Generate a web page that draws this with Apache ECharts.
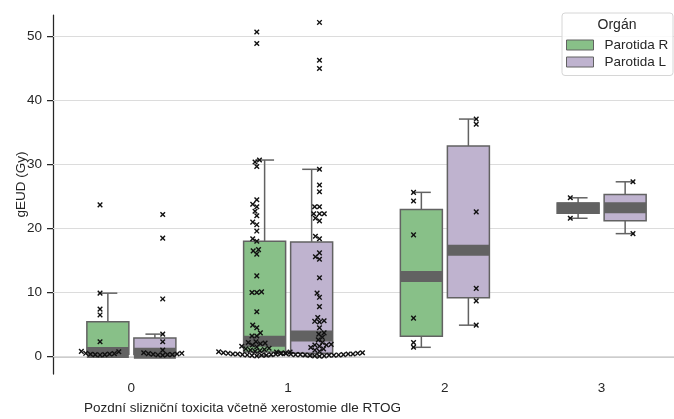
<!DOCTYPE html>
<html><head><meta charset="utf-8">
<script src="https://cdn.jsdelivr.net/npm/echarts@6/dist/echarts.min.js"></script>
<style>html,body{margin:0;padding:0;background:#fff}#c{width:674px;height:419px}</style>
</head><body><div id="c"></div>
<script>
// ---------- data ----------
const categories = ['0', '1', '2', '3'];
const hueNames = ['Parotida R', 'Parotida L'];
const hueColors = ['#88c088', '#bfb3cf'];
const yTicks = [0, 10, 20, 30, 40, 50];
// box statistics per category: [low whisker, Q1, median, Q3, high whisker]
const boxR = [[0.25, 0.36, 0.62, 5.45, 9.9], [0.1, 0.7, 2.4, 18.0, 30.7], [1.44, 3.15, 12.5, 22.98, 25.65], [21.6, 22.4, 23.2, 24.0, 24.8]];
const boxL = [[0.2, 0.3, 0.5, 2.9, 3.5], [0.05, 0.5, 3.2, 17.9, 29.25], [4.9, 9.19, 16.6, 32.9, 37.1], [19.2, 21.2, 23.25, 25.3, 27.3]];
// individual observations per category
const ptsR0 = [23.7, 9.9, 7.4, 6.5, 2.3, 0.8, 0.75, 0.5, 0.45, 0.4, 0.35, 0.3, 0.3, 0.25];
const ptsR1 = [50.7, 48.9, 30.7, 30.4, 29.7, 24.5, 23.8, 23.4, 22.7, 22.0, 21.0, 20.6, 19.6, 18.4, 18.0, 16.7, 16.5, 16.0, 12.6, 10.1, 10.0, 10.0, 7.0, 4.9, 4.5, 3.7, 3.2, 3.2, 2.3, 2.2, 2.1, 2.0, 1.8, 1.6, 1.5, 1.3, 1.2, 1.1, 1.0, 0.9, 0.8, 0.75, 0.7, 0.6, 0.55, 0.5, 0.45, 0.4, 0.4, 0.35, 0.3, 0.3, 0.25, 0.2, 0.2, 0.15, 0.1];
const ptsR2 = [25.65, 24.3, 19.0, 6.0, 2.2, 1.44];
const ptsR3 = [24.8, 21.6];
const ptsL0 = [22.2, 18.5, 9.0, 3.5, 2.3, 1.0, 0.6, 0.5, 0.45, 0.4, 0.35, 0.3, 0.3, 0.25, 0.2];
const ptsL1 = [52.2, 46.3, 45.0, 29.25, 26.8, 25.75, 23.4, 23.4, 22.3, 22.3, 22.3, 21.6, 21.2, 18.8, 18.4, 16.2, 15.6, 15.2, 12.3, 9.9, 9.25, 7.8, 6.1, 5.6, 5.5, 5.4, 4.5, 3.7, 3.5, 3.0, 2.6, 2.2, 1.9, 1.8, 1.8, 1.6, 1.4, 1.2, 1.0, 0.8, 0.7, 0.6, 0.55, 0.5, 0.45, 0.4, 0.4, 0.35, 0.3, 0.3, 0.3, 0.25, 0.25, 0.2, 0.2, 0.15, 0.1, 0.1, 0.05];
const ptsL2 = [37.1, 36.3, 22.6, 10.65, 8.7, 4.9];
const ptsL3 = [27.3, 19.2];
const ptsR = [ptsR0, ptsR1, ptsR2, ptsR3];
const ptsL = [ptsL0, ptsL1, ptsL2, ptsL3];

// ---------- style ----------
const FONT = "'Liberation Sans', Arial, sans-serif";
const TXT = '#262626';
const EDGE = '#626262';
const BOX_OFF = [-0.15, 0.15];
const PT_OFF = [-0.2, 0.2];
const BOX_FRAC = 0.268;
const SWARM_D = 4.8;

function boxRender(hue) {
  return function (params, api) {
    const c = api.value(0);
    const bw = api.size([1, 0])[0];
    const cx = api.coord([c, 0])[0] + BOX_OFF[hue] * bw;
    const w = BOX_FRAC * bw;
    const Y = i => api.coord([c, api.value(i)])[1];
    const yl = Y(1), yq1 = Y(2), ym = Y(3), yq3 = Y(4), yh = Y(5);
    const st = { stroke: EDGE, lineWidth: 1.5 };
    const cap = w * 0.225;
    return { type: 'group', children: [
      { type: 'line', shape: { x1: cx, y1: yq3, x2: cx, y2: yh }, style: st },
      { type: 'line', shape: { x1: cx, y1: yq1, x2: cx, y2: yl }, style: st },
      { type: 'line', shape: { x1: cx - cap, y1: yh, x2: cx + cap, y2: yh }, style: st },
      { type: 'line', shape: { x1: cx - cap, y1: yl, x2: cx + cap, y2: yl }, style: st },
      { type: 'rect', shape: { x: cx - w / 2, y: yq3, width: w, height: yq1 - yq3 }, style: { fill: hueColors[hue], stroke: EDGE, lineWidth: 1.5 } },
      { type: 'rect', shape: { x: cx - w / 2, y: ym - 5.5, width: w, height: 11 }, style: { fill: EDGE } }
    ] };
  };
}
function ptRender(hue) {
  return function (params, api) {
    const c = api.value(0);
    const bw = api.size([1, 0])[0];
    const p = api.coord([c, api.value(1)]);
    const x = p[0] + PT_OFF[hue] * bw + api.value(2), y = p[1], s = 2.3;
    const st = { stroke: '#111', lineWidth: 1.4 };
    return { type: 'group', children: [
      { type: 'line', shape: { x1: x - s, y1: y - s, x2: x + s, y2: y + s }, style: st },
      { type: 'line', shape: { x1: x - s, y1: y + s, x2: x + s, y2: y - s }, style: st }
    ] };
  };
}
function swarm(ys, d) {
  const order = ys.map((y, i) => i).sort((a, b) => ys[b] - ys[a]);
  const placed = [], dx = new Array(ys.length);
  for (const i of order) {
    const y = ys[i];
    const nb = placed.filter(p => Math.abs(p.y - y) < d);
    const cands = [0];
    nb.forEach(n => { const o = Math.sqrt(d * d - (n.y - y) * (n.y - y)); cands.push(n.x - o, n.x + o); });
    cands.sort((a, b) => Math.abs(a) - Math.abs(b));
    let best = cands[cands.length - 1];
    for (const cx of cands) {
      if (nb.every(n => (n.x - cx) * (n.x - cx) + (n.y - y) * (n.y - y) >= d * d - 1e-6)) { best = cx; break; }
    }
    placed.push({ x: best, y }); dx[i] = best;
  }
  return dx;
}

const chart = echarts.init(document.getElementById('c'));
const option = {
  animation: false,
  backgroundColor: '#fff',
  textStyle: { fontFamily: FONT },
  grid: { left: 53, right: -6, top: 15, bottom: 45, containLabel: false, outerBoundsMode: 'none' },
  xAxis: {
    type: 'category', data: categories, boundaryGap: true,
    name: 'Pozdní slizniční toxicita včetně xerostomie dle RTOG', nameLocation: 'middle', nameGap: 27, nameMoveOverlap: false,
    nameTextStyle: { fontSize: 13.5, color: TXT, fontFamily: FONT, padding: [0, 248, 0, 0] },
    axisLine: { lineStyle: { color: TXT, width: 1.25 } },
    axisTick: { alignWithLabel: true, length: 6, lineStyle: { color: TXT, width: 1.25 } },
    axisLabel: { fontSize: 13.5, color: TXT, margin: 7, fontFamily: FONT },
    splitLine: { show: false }
  },
  yAxis: {
    type: 'value', min: -2.73, max: 53.36,
    name: 'gEUD (Gy)', nameLocation: 'middle', nameGap: 25, nameMoveOverlap: false,
    nameTextStyle: { fontSize: 13.5, color: TXT, fontFamily: FONT, padding: [0, 0, 0, 20] },
    axisLine: { show: true, lineStyle: { color: TXT, width: 1.25 } },
    axisTick: { show: true, length: 6, customValues: yTicks, lineStyle: { color: TXT, width: 1.25 } },
    axisLabel: { fontSize: 13.5, color: TXT, margin: 11, customValues: yTicks, fontFamily: FONT },
    splitLine: { show: false }
  },
  legend: {
    data: hueNames.map((n, i) => ({ name: n, itemStyle: { color: hueColors[i], borderColor: EDGE, borderWidth: 1 } })),
    orient: 'vertical', left: 566, top: 38, padding: 0, itemWidth: 27, itemHeight: 10, itemGap: 3,
    icon: 'rect', selectedMode: false, z: 20,
    textStyle: { fontSize: 13.5, color: TXT, fontFamily: FONT, padding: [0, 0, 0, 6] }
  },
  graphic: [
    { type: 'rect', left: 561.5, top: 12.5, z: 10, shape: { width: 111, height: 62.5, r: 3 }, style: { fill: 'rgba(255,255,255,0.85)', stroke: '#d6d6d6', lineWidth: 1 } },
    { type: 'text', x: 617, y: 25, z: 11, style: { text: 'Orgán', fill: TXT, font: '14px ' + FONT, textAlign: 'center', textVerticalAlign: 'middle' } }
  ],
  series: [
    { type: 'custom', name: 'grid', silent: true, z: 1, clip: false, data: yTicks.map(v => [0, v]), encode: { x: 0, y: 1 },
      renderItem: (params, api) => {
        const cs = params.coordSys; const y = api.coord([0, api.value(1)])[1];
        return { type: 'line', shape: { x1: cs.x, y1: y, x2: cs.x + cs.width, y2: y }, style: { stroke: '#dcdcdc', lineWidth: 1.2 } };
      } },
    { type: 'custom', name: hueNames[0], z: 2, data: boxR.map((b, i) => [i].concat(b)), encode: { x: 0, y: [1, 2, 3, 4, 5] }, renderItem: boxRender(0), itemStyle: { color: hueColors[0] } },
    { type: 'custom', name: hueNames[1], z: 2, data: boxL.map((b, i) => [i].concat(b)), encode: { x: 0, y: [1, 2, 3, 4, 5] }, renderItem: boxRender(1), itemStyle: { color: hueColors[1] } },
    { id: 'ptsR', type: 'custom', name: 'ptsR', z: 3, data: [], dimensions: ['c', 'v', 'dx'], encode: { x: 0, y: 1 }, renderItem: ptRender(0) },
    { id: 'ptsL', type: 'custom', name: 'ptsL', z: 3, data: [], dimensions: ['c', 'v', 'dx'], encode: { x: 0, y: 1 }, renderItem: ptRender(1) }
  ]
};
chart.setOption(option);
function buildPoints(groups) {
  const out = [];
  groups.forEach((arr, c) => {
    const ys = arr.map(v => chart.convertToPixel({ yAxisIndex: 0 }, v));
    const dx = swarm(ys, SWARM_D);
    arr.forEach((v, k) => out.push([c, v, dx[k]]));
  });
  return out;
}
chart.setOption({ series: [{ id: 'ptsR', data: buildPoints(ptsR) }, { id: 'ptsL', data: buildPoints(ptsL) }] });
</script></body></html>
